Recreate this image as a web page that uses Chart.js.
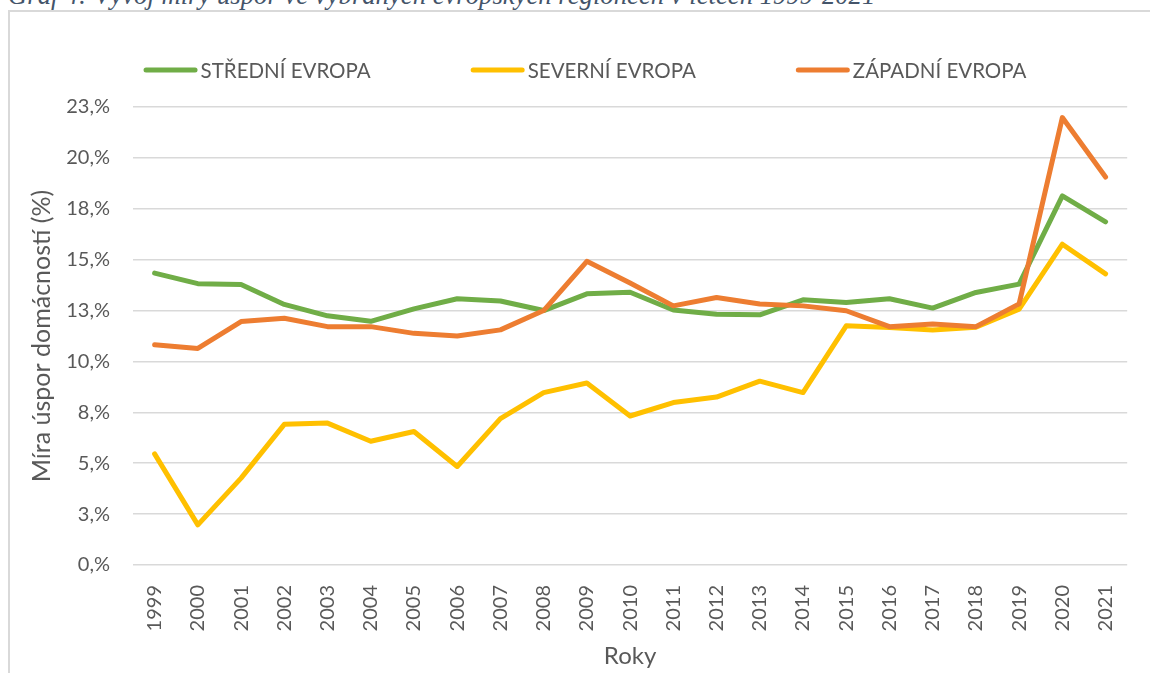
<!DOCTYPE html>
<html lang="cs">
<head>
<meta charset="utf-8">
<title>Graf 4</title>
<script src="https://cdn.jsdelivr.net/npm/chart.js@4"></script>
<style>
  body { margin: 0; background: #fff; width: 1150px; height: 673px; overflow: hidden; position: relative; }
  #caption {
    position: absolute; left: 8px; top: -18px;
    font: italic 26.7px 'Liberation Serif', 'Times New Roman', serif;
    line-height: 27px; color: #44546A; white-space: nowrap;
  }
  #frame {
    position: absolute; left: 8px; top: 10px; width: 1200px; height: 700px;
    border-left: 2px solid #d9d9d9; border-top: 2px solid #d9d9d9;
  }
  #savingsChart { position: absolute; left: 10px; top: 12px; }
</style>
</head>
<body>
<div id="caption">Graf 4: Vývoj míry úspor ve vybraných evropských regionech v letech 1999-2021</div>
<div id="frame"></div>
<canvas id="savingsChart" width="1140" height="661"></canvas>
<script>
// Data
const years = ['1999', '2000', '2001', '2002', '2003', '2004', '2005', '2006', '2007', '2008', '2009',
               '2010', '2011', '2012', '2013', '2014', '2015', '2016', '2017', '2018', '2019', '2020', '2021'];
const stredniEvropa = [14.34, 13.82, 13.78, 12.80, 12.24, 11.97, 12.58, 13.08, 12.97, 12.50, 13.32,
                       13.40, 12.53, 12.32, 12.29, 13.03, 12.90, 13.08, 12.62, 13.39, 13.80, 18.13, 16.86];
const severniEvropa = [5.46, 1.97, 4.27, 6.91, 6.97, 6.08, 6.56, 4.84, 7.19, 8.47, 8.94,
                       7.32, 7.98, 8.25, 9.03, 8.47, 11.75, 11.67, 11.55, 11.68, 12.57, 15.76, 14.30];
const zapadniEvropa = [10.82, 10.64, 11.96, 12.12, 11.71, 11.71, 11.38, 11.25, 11.55, 12.50, 14.92,
                       13.85, 12.73, 13.14, 12.82, 12.73, 12.49, 11.71, 11.84, 11.71, 12.83, 21.98, 19.06];
const yTickLabels = ['0,%', '3,%', '5,%', '8,%', '10,%', '13,%', '15,%', '18,%', '20,%', '23,%'];

const textColor = '#595959';
const fontFamily = "'Lato', 'Noto Sans', sans-serif";

// Legend drawn like the Excel one: short round-capped line then the label
const lineLegend = {
    id: 'lineLegend',
    afterDraw: function(chart) {
        const ctx = chart.ctx;
        const sets = chart.data.datasets;
        const lineLen = 54, gap = 3, spacing = 100;
        ctx.save();
        ctx.font = '20.5px ' + fontFamily;
        const widths = sets.map(ds => lineLen + gap + ctx.measureText(ds.label).width);
        const total = widths.reduce((a, b) => a + b, 0) + spacing * (sets.length - 1);
        let x = 575 - total / 2;
        const y = 58;
        sets.forEach(function(ds, i) {
            ctx.strokeStyle = ds.borderColor;
            ctx.lineWidth = 5;
            ctx.lineCap = 'round';
            ctx.beginPath();
            ctx.moveTo(x + 2.5, y);
            ctx.lineTo(x + lineLen - 2.5, y);
            ctx.stroke();
            ctx.fillStyle = textColor;
            ctx.textBaseline = 'middle';
            ctx.textAlign = 'left';
            ctx.fillText(ds.label, x + lineLen + gap, y + 1);
            x += widths[i] + spacing;
        });
        ctx.restore();
    }
};

const ctx = document.getElementById('savingsChart').getContext('2d');
new Chart(ctx, {
    type: 'line',
    data: {
        labels: years,
        datasets: [{
            label: 'STŘEDNÍ EVROPA',
            data: stredniEvropa,
            borderColor: '#70AD47',
            order: 3
        }, {
            label: 'SEVERNÍ EVROPA',
            data: severniEvropa,
            borderColor: '#FFC000',
            order: 2
        }, {
            label: 'ZÁPADNÍ EVROPA',
            data: zapadniEvropa,
            borderColor: '#ED7D31',
            order: 1
        }]
    },
    options: {
        responsive: false,
        animation: false,
        devicePixelRatio: 1,
        layout: {
            padding: { top: 95, right: 20, left: 0, bottom: 0 }
        },
        elements: {
            line: {
                borderWidth: 5,
                borderCapStyle: 'round',
                borderJoinStyle: 'round',
                tension: 0,
                fill: false
            },
            point: { radius: 0, hoverRadius: 0 }
        },
        scales: {
            x: {
                offset: true,
                grid: { display: false, drawTicks: false },
                border: { display: false },
                ticks: {
                    autoSkip: false,
                    minRotation: 90,
                    maxRotation: 90,
                    padding: 20,
                    color: textColor,
                    font: { family: fontFamily, size: 20 }
                },
                title: {
                    display: true,
                    text: 'Roky',
                    color: textColor,
                    font: { family: fontFamily, size: 24 },
                    padding: { top: 0, bottom: 2 }
                },
                afterFit: function(scale) { scale.height = 108; }
            },
            y: {
                min: 0,
                max: 22.5,
                grid: { color: '#d9d9d9', lineWidth: 1.5, drawTicks: false },
                border: { display: false },
                ticks: {
                    stepSize: 2.5,
                    padding: 23,
                    color: textColor,
                    font: { family: fontFamily, size: 20 },
                    callback: function(value, index) {
                        return yTickLabels[index];
                    }
                },
                title: {
                    display: true,
                    text: 'Míra úspor domácností (%)',
                    color: textColor,
                    font: { family: fontFamily, size: 25 },
                    padding: { top: 17, bottom: 0 }
                },
                afterFit: function(scale) { scale.width = 123; }
            }
        },
        plugins: {
            legend: { display: false },
            tooltip: { enabled: false }
        }
    },
    plugins: [lineLegend]
});
</script>
</body>
</html>
